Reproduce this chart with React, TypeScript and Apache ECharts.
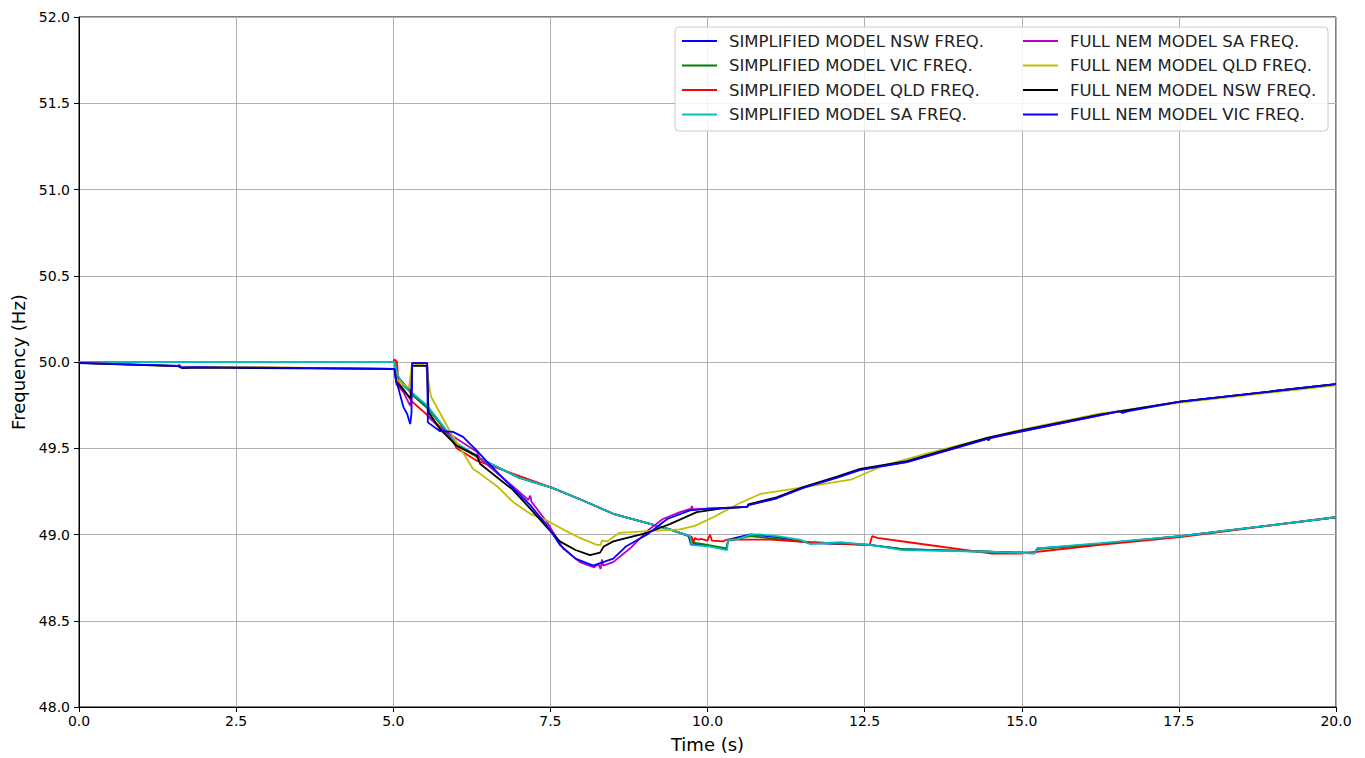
import React, { useEffect, useRef } from "react";
import * as echarts from "echarts";

const xTicks = [0, 2.5, 5, 7.5, 10, 12.5, 15, 17.5, 20];
const yTicks = [48, 48.5, 49, 49.5, 50, 50.5, 51, 51.5, 52];

const seriesNames = [
  "SIMPLIFIED MODEL NSW FREQ.",
  "SIMPLIFIED MODEL VIC FREQ.",
  "SIMPLIFIED MODEL QLD FREQ.",
  "SIMPLIFIED MODEL SA FREQ.",
  "FULL NEM MODEL SA FREQ.",
  "FULL NEM MODEL QLD FREQ.",
  "FULL NEM MODEL NSW FREQ.",
  "FULL NEM MODEL VIC FREQ.",
];

const seriesColors = ["#0000ff", "#008000", "#ff0000", "#00bfbf", "#bf00bf", "#bfbf00", "#000000", "#0000ff"];

const simNswFreq = [
  [0, 50.0], [5.02, 50.0], [5.05, 49.94], [5.08, 49.91], [5.3, 49.82], [5.55, 49.74], [5.74, 49.65], [6.0, 49.53],
  [6.38, 49.44], [7.0, 49.33], [7.53, 49.27], [8.0, 49.2], [8.5, 49.12], [9.0, 49.07], [9.4, 49.03], [9.7, 48.99],
  [9.74, 48.94], [9.78, 48.945], [10.0, 48.935], [10.3, 48.915], [10.33, 48.97], [10.68, 49.0], [11.1, 48.985],
  [11.63, 48.95], [12.58, 48.94], [13.1, 48.915], [14.5, 48.9], [15.2, 48.89], [15.25, 48.92], [16.25, 48.945],
  [17.52, 48.99], [20, 49.1],
];

const simVicFreq = [
  [0, 50.0], [5.03, 50.0], [5.06, 49.93], [5.1, 49.9], [5.3, 49.81], [5.55, 49.73], [5.74, 49.645], [6.0, 49.52],
  [6.38, 49.44], [7.0, 49.33], [7.53, 49.27], [8.0, 49.2], [8.5, 49.12], [9.0, 49.07], [9.4, 49.03], [9.72, 48.99],
  [9.76, 48.955], [10.0, 48.94], [10.3, 48.92], [10.33, 48.965], [10.68, 48.99], [11.1, 48.975], [11.63, 48.955],
  [12.58, 48.94], [13.1, 48.915], [14.5, 48.9], [15.2, 48.895], [15.25, 48.915], [16.25, 48.945], [17.52, 48.99],
  [20, 49.1],
];

const simQldFreq = [
  [0, 50.0], [5.0, 50.0], [5.02, 50.015], [5.06, 50.0], [5.08, 49.884], [5.3, 49.77], [5.55, 49.69], [5.9, 49.57],
  [6.01, 49.5], [6.33, 49.428], [7.0, 49.34], [7.53, 49.27], [8.0, 49.2], [8.5, 49.12], [9.0, 49.07], [9.4, 49.03],
  [9.72, 48.99], [9.75, 48.985], [9.78, 48.955], [9.8, 48.98], [9.85, 48.97], [9.9, 48.975], [10.0, 48.965],
  [10.04, 49.0], [10.07, 48.965], [10.25, 48.96], [10.3, 48.97], [10.5, 48.97], [11.0, 48.97], [11.63, 48.955],
  [12.58, 48.94], [12.62, 48.99], [12.7, 48.98], [13.2, 48.955], [14.5, 48.89], [15.0, 48.89], [15.25, 48.9],
  [16.25, 48.94], [17.52, 48.985], [20, 49.1],
];

const simSaFreq = [
  [0, 50.0], [5.02, 50.0], [5.05, 49.95], [5.08, 49.92], [5.16, 49.86], [5.5, 49.76], [5.74, 49.655], [6.0, 49.53],
  [6.33, 49.457], [6.38, 49.44], [7.0, 49.33], [7.53, 49.27], [8.0, 49.2], [8.5, 49.12], [9.0, 49.07], [9.4, 49.03],
  [9.72, 48.99], [9.75, 48.94], [10.04, 48.93], [10.31, 48.91], [10.33, 48.97], [10.47, 48.97], [10.68, 49.0],
  [10.84, 49.0], [11.11, 48.99], [11.47, 48.97], [11.63, 48.945], [12.11, 48.955], [12.59, 48.94], [13.1, 48.91],
  [14.5, 48.9], [15.2, 48.89], [15.25, 48.92], [16.25, 48.95], [17.52, 48.99], [20, 49.1],
];

const fullSaFreq = [
  [0, 49.995], [1.58, 49.978], [1.6, 49.985], [1.62, 49.97], [1.8, 49.972], [5.02, 49.96], [5.05, 49.87],
  [5.16, 49.827], [5.27, 49.746], [5.29, 49.8], [5.3, 49.994], [5.54, 49.994], [5.56, 49.68], [5.74, 49.62],
  [6.01, 49.555], [6.33, 49.48], [6.38, 49.44], [6.9, 49.28], [7.15, 49.2], [7.18, 49.225], [7.2, 49.19],
  [7.45, 49.07], [7.7, 48.92], [7.97, 48.84], [8.12, 48.82], [8.2, 48.81], [8.26, 48.83], [8.3, 48.8],
  [8.32, 48.855], [8.34, 48.82], [8.5, 48.84], [8.77, 48.92], [9.04, 49.02], [9.29, 49.09], [9.56, 49.13],
  [9.74, 49.15], [9.75, 49.165], [9.77, 49.145], [10.0, 49.15], [10.63, 49.16], [10.65, 49.17], [11.1, 49.21],
  [11.52, 49.27], [12.06, 49.33], [12.43, 49.375], [13.17, 49.42], [14.45, 49.555], [15.02, 49.6], [16.24, 49.69],
  [16.58, 49.715], [17.52, 49.77], [20, 49.872],
];

const fullQldFreq = [
  [0, 49.995], [1.6, 49.975], [5.02, 49.96], [5.05, 49.9], [5.25, 49.85], [5.3, 49.99], [5.52, 49.98], [5.6, 49.8],
  [5.9, 49.6], [6.27, 49.38], [6.38, 49.353], [6.65, 49.28], [6.9, 49.19], [7.18, 49.12], [7.45, 49.08], [7.7, 49.03],
  [7.97, 48.98], [8.24, 48.94], [8.3, 48.94], [8.32, 48.965], [8.4, 48.96], [8.6, 49.01], [9.04, 49.02], [9.56, 49.03],
  [9.8, 49.05], [10.09, 49.1], [10.5, 49.18], [10.84, 49.235], [11.47, 49.27], [12.3, 49.32], [12.8, 49.4],
  [13.5, 49.47], [14.45, 49.56], [15.02, 49.61], [16.24, 49.7], [17.52, 49.765], [20, 49.865],
];

const fullNswFreq = [
  [0, 49.993], [1.58, 49.976], [1.65, 49.964], [1.9, 49.967], [5.02, 49.96], [5.05, 49.884], [5.16, 49.84],
  [5.27, 49.79], [5.29, 49.85], [5.3, 49.977], [5.54, 49.977], [5.56, 49.71], [5.74, 49.613], [6.01, 49.514],
  [6.33, 49.457], [6.38, 49.41], [6.9, 49.26], [7.18, 49.15], [7.45, 49.04], [7.65, 48.96], [7.9, 48.91],
  [8.13, 48.88], [8.29, 48.895], [8.35, 48.93], [8.5, 48.96], [9.04, 49.01], [9.4, 49.06], [9.83, 49.13],
  [10.2, 49.15], [10.63, 49.16], [10.65, 49.175], [11.1, 49.215], [11.52, 49.275], [12.06, 49.335], [12.43, 49.38],
  [13.17, 49.425], [14.45, 49.56], [15.02, 49.605], [16.24, 49.695], [17.52, 49.77], [20, 49.872],
];

const fullVicFreq = [
  [0, 49.995], [1.58, 49.978], [1.62, 49.968], [1.8, 49.97], [5.02, 49.96], [5.04, 49.9], [5.08, 49.85],
  [5.16, 49.74], [5.22, 49.7], [5.27, 49.64], [5.29, 49.7], [5.3, 49.994], [5.54, 49.994], [5.55, 49.65],
  [5.74, 49.6], [5.95, 49.595], [6.11, 49.566], [6.33, 49.486], [6.49, 49.422], [6.9, 49.27], [7.18, 49.17],
  [7.45, 49.05], [7.65, 48.94], [7.9, 48.86], [8.18, 48.82], [8.5, 48.86], [8.7, 48.93], [9.04, 49.0],
  [9.36, 49.09], [9.72, 49.14], [10.0, 49.15], [10.63, 49.16], [10.65, 49.17], [11.1, 49.21], [11.52, 49.27],
  [12.06, 49.33], [12.43, 49.375], [13.17, 49.42], [14.45, 49.555], [14.47, 49.545], [14.5, 49.56], [15.02, 49.6],
  [16.24, 49.69], [16.55, 49.715], [16.6, 49.705], [16.7, 49.715], [17.52, 49.77], [19.95, 49.87], [20, 49.872],
];

const seriesData = [simNswFreq, simVicFreq, simQldFreq, simSaFreq, fullSaFreq, fullQldFreq, fullNswFreq, fullVicFreq];

const FONT = "DejaVu Sans";

export default function App() {
  const ref = useRef<HTMLDivElement>(null);
  useEffect(() => {
    if (!ref.current) return;
    const chart = echarts.init(ref.current, undefined, { renderer: "svg" });
    const legendCommon = {
      orient: "vertical" as const,
      padding: 0,
      itemWidth: 35,
      itemHeight: 17,
      itemGap: 7.5,
      icon: "path://M0,7.5 L35,7.5 L35,9.5 L0,9.5 Z",
      textStyle: { fontFamily: FONT, fontSize: 16.5, color: "#222", padding: [0, 0, 0, 7], lineHeight: 17 },
      selectedMode: false,
    };
    chart.setOption({
      animation: false,
      backgroundColor: "#ffffff",
      grid: { left: 79, right: 29, top: 17, bottom: 43, show: true, borderColor: "#000", borderWidth: 1, backgroundColor: "transparent" },
      graphic: [
        {
          type: "rect",
          z: 3,
          shape: { x: 675, y: 27, width: 653, height: 104, r: 4 },
          style: { fill: "rgba(255,255,255,0.85)", stroke: "#cccccc", lineWidth: 1 },
        },
      ],
      legend: [
        { ...legendCommon, left: 682, top: 32.5, data: seriesNames.slice(0, 4) },
        { ...legendCommon, left: 1023, top: 32.5, data: seriesNames.slice(4) },
      ],
      xAxis: {
        type: "value",
        min: xTicks[0],
        max: xTicks[xTicks.length - 1],
        interval: 2.5,
        name: "Time (s)",
        nameLocation: "middle",
        nameGap: 28,
        nameTextStyle: { fontFamily: FONT, fontSize: 18, color: "#000" },
        axisLine: { show: true, onZero: false, lineStyle: { color: "#000", width: 1 } },
        axisTick: { show: true, inside: false, length: 5, lineStyle: { color: "#000" } },
        axisLabel: { fontFamily: FONT, fontSize: 14, color: "#000", margin: 7, formatter: (v: number) => v.toFixed(1) },
        splitLine: { show: true, lineStyle: { color: "#b0b0b0", width: 1 } },
      },
      yAxis: {
        type: "value",
        min: yTicks[0],
        max: yTicks[yTicks.length - 1],
        interval: 0.5,
        name: "Frequency (Hz)",
        nameLocation: "middle",
        nameGap: 50,
        nameTextStyle: { fontFamily: FONT, fontSize: 18, color: "#000" },
        axisLine: { show: true, onZero: false, lineStyle: { color: "#000", width: 1 } },
        axisTick: { show: true, inside: false, length: 5, lineStyle: { color: "#000" } },
        axisLabel: { fontFamily: FONT, fontSize: 14, color: "#000", margin: 9, formatter: (v: number) => v.toFixed(1) },
        splitLine: { show: true, lineStyle: { color: "#b0b0b0", width: 1 } },
      },
      series: seriesNames.map((name, i) => ({
        name,
        type: "line",
        data: seriesData[i],
        showSymbol: false,
        symbol: "none",
        color: seriesColors[i],
        lineStyle: { color: seriesColors[i], width: 1.8 },
        z: 2,
      })),
    });
    return () => chart.dispose();
  }, []);
  return <div ref={ref} style={{ position: "absolute", left: 0, top: 0, width: 1365, height: 758 }} />;
}
